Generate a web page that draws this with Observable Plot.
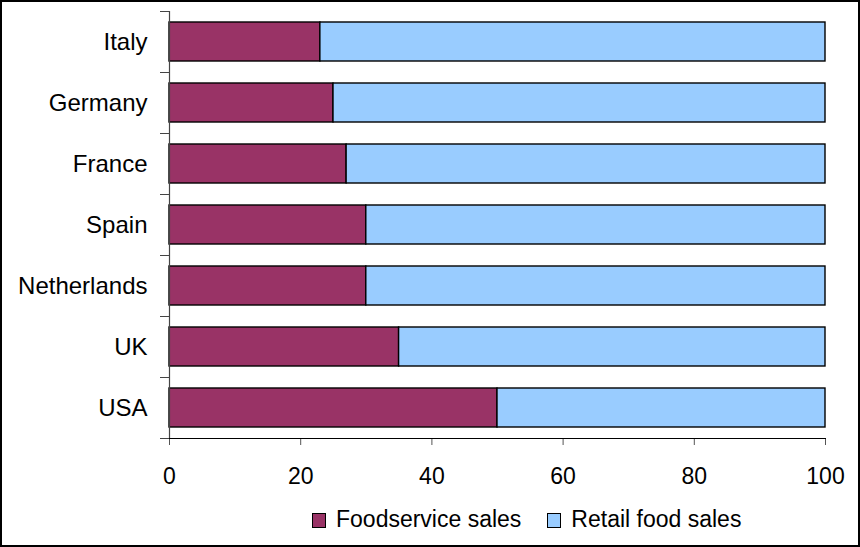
<!DOCTYPE html>
<html>
<head>
<meta charset="utf-8">
<script src="https://cdn.jsdelivr.net/npm/d3@7"></script>
<script src="https://cdn.jsdelivr.net/npm/@observablehq/plot@0.6"></script>
<style>
  html, body { margin: 0; padding: 0; background: #fff; }
  #frame {
    box-sizing: border-box; width: 860px; height: 547px;
    border: 2px solid #000; background: #fff; overflow: hidden;
    font-family: "Liberation Sans", Arial, sans-serif;
  }
  #legend {
    display: flex; align-items: center; height: 26px; line-height: 26px;
    margin-top: 9px; margin-left: 310px; font-size: 23px; color: #000;
  }
  .item { display: flex; align-items: center; margin-right: 26px; }
  .sw { box-sizing: border-box; width: 14px; height: 15px; border: 1px solid #000; margin-right: 10px; margin-top: 2px; }
</style>
</head>
<body>
<div id="frame"></div>
<script>
const countries = ["Italy", "Germany", "France", "Spain", "Netherlands", "UK", "USA"];
const foodservice = [23, 25, 27, 30, 30, 35, 50];
const retail = [77, 75, 73, 70, 70, 65, 50];
const seriesNames = ["Foodservice sales", "Retail food sales"];
const seriesColors = ["#993366", "#99CCFF"];
const xTicks = [0, 20, 40, 60, 80, 100];

const data = countries.flatMap((c, i) => [
  {country: c, series: seriesNames[0], value: foodservice[i]},
  {country: c, series: seriesNames[1], value: retail[i]}
]);

// Excel-style category ticks at band boundaries, derived from the band scale
function boundaryTicks(index, scales, values, dimensions) {
  const y = scales.y;
  const step = y.step(), bw = y.bandwidth();
  const half = (step - bw) / 2;
  const ys = countries.map(c => y(c) - half);
  ys.push(y(countries[countries.length - 1]) + bw + half);
  const g = d3.create("svg:g").attr("stroke", "#444").attr("stroke-width", 1);
  const x0 = dimensions.marginLeft;
  for (const yy of ys) {
    g.append("line").attr("x1", x0 - 9).attr("x2", x0).attr("y1", Math.round(yy) + 0.5).attr("y2", Math.round(yy) + 0.5);
  }
  return g.node();
}

const chart = Plot.plot({
  width: 856,
  height: 495,
  marginLeft: 167,
  marginRight: 33,
  marginTop: 9,
  marginBottom: 59,
  style: {fontFamily: "'Liberation Sans', Arial, sans-serif", fontSize: "23px", color: "#000", background: "#fff", overflow: "visible"},
  x: {domain: [0, 100]},
  y: {domain: countries, paddingInner: 0.36, paddingOuter: 0.18},
  color: {domain: seriesNames, range: seriesColors},
  marks: [
    Plot.barX(data, Plot.stackX({y: "country", x: "value", fill: "series", stroke: "#000", strokeWidth: 1.4})),
    Plot.ruleX([0], {stroke: "#444", strokeWidth: 1.2}),
    Plot.axisY({tickSize: 0, tickPadding: 22, label: null, fontSize: 24}),
    Plot.axisX({ticks: xTicks, tickSize: 7, tickPadding: 22, label: null, stroke: "#555", fontSize: 23}),
    Plot.frame({anchor: "bottom", stroke: "#000"}),
    boundaryTicks
  ]
});

const frame = document.getElementById("frame");
frame.appendChild(chart);

const legend = document.createElement("div");
legend.id = "legend";
seriesNames.forEach((name, i) => {
  const item = document.createElement("div");
  item.className = "item";
  const sw = document.createElement("span");
  sw.className = "sw";
  sw.style.background = seriesColors[i];
  const label = document.createElement("span");
  label.textContent = name;
  item.appendChild(sw);
  item.appendChild(label);
  legend.appendChild(item);
});
frame.appendChild(legend);
</script>
</body>
</html>
